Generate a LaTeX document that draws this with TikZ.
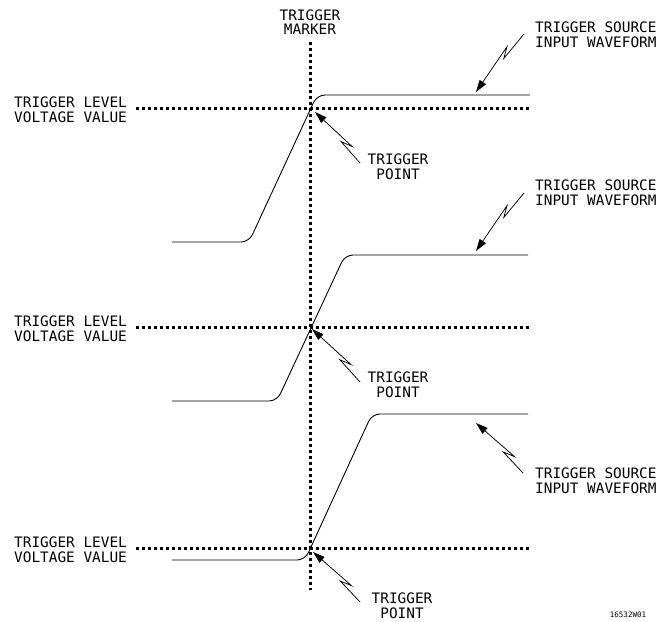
\documentclass[tikz,border=0pt]{standalone}
\usepackage{fontspec}
\newfontfamily\plotfont{DejaVu Sans Mono}
\usetikzlibrary{calc,arrows.meta}
\tikzset{
  lbl/.style={font=\plotfont\fontsize{14.4}{15}\selectfont, inner sep=0pt},
  lblw/.style={lbl, anchor=base west},
  lblc/.style={lbl, anchor=base},
  dotline/.style={line width=3pt, dash pattern=on 3pt off 3pt},
  wave/.style={line width=0.9pt, rounded corners=8pt},
  ptr/.style={line width=0.75pt, -{Triangle[length=12pt,width=7.5pt]}},
}
\newcommand{\zigarrow}[2]{%
  \coordinate (zA) at ($(#1)!0.42!(#2)$);
  \coordinate (zA2) at ($(zA)!11pt!(#1)$);
  \coordinate (zB) at ($(zA2)!5pt!-90:(#2)$);
  \draw[ptr] (#1) -- (zA) -- (zB) -- (#2);
}
\begin{document}
\begin{tikzpicture}[x=1pt,y=-1pt]
\useasboundingbox (0,0) rectangle (658,621);

% dotted trigger marker and level lines
\coordinate (mTop) at (310,42);
\coordinate (mBot) at (310,590);
\draw[dotline] (mTop) -- (mBot);
\coordinate (l1a) at (136,108); \coordinate (l1b) at (530,108);
\coordinate (l2a) at (136,327); \coordinate (l2b) at (530,327);
\coordinate (l3a) at (136,548); \coordinate (l3b) at (530,548);
\draw[dotline] (l1a) -- (l1b);
\draw[dotline] (l2a) -- (l2b);
\draw[dotline] (l3a) -- (l3b);

% waveforms
\draw[wave] (172,242) -- (249,242) -- (317,95) -- (530,95);
\draw[wave] (172,401) -- (277,401) -- (345,255) -- (528,255);
\draw[wave] (172,560) -- (305,560) -- (372,414) -- (528,414);

% labels
\node[lblc] (mk1) at (310,20) {TRIGGER};
\node[lblc] (mk2) at (310,34) {MARKER};

\node[lblw] (s1a) at (535,32) {TRIGGER SOURCE};
\node[lblw] (s1b) at (535,47) {INPUT WAVEFORM};
\node[lblw] (s2a) at (535,190) {TRIGGER SOURCE};
\node[lblw] (s2b) at (535,205) {INPUT WAVEFORM};
\node[lblw] (s3a) at (535,478) {TRIGGER SOURCE};
\node[lblw] (s3b) at (535,493) {INPUT WAVEFORM};

\node[lblw] (v1a) at (14,107) {TRIGGER LEVEL};
\node[lblw] (v1b) at (14,122) {VOLTAGE VALUE};
\node[lblw] (v2a) at (14,326) {TRIGGER LEVEL};
\node[lblw] (v2b) at (14,341) {VOLTAGE VALUE};
\node[lblw] (v3a) at (14,547) {TRIGGER LEVEL};
\node[lblw] (v3b) at (14,562) {VOLTAGE VALUE};

\node[lblc] (p1a) at (398,164) {TRIGGER};
\node[lblc] (p1b) at (398,179) {POINT};
\node[lblc] (p2a) at (398,382) {TRIGGER};
\node[lblc] (p2b) at (398,397) {POINT};
\node[lblc] (p3a) at (402,603) {TRIGGER};
\node[lblc] (p3b) at (402,618) {POINT};

\node[font=\plotfont\fontsize{7.5}{8}\selectfont, inner sep=0pt, anchor=base] (fig) at (628,617) {16532W01};

% arrows
\coordinate (sa1t) at (524,34);  \coordinate (sa1p) at (476,92);
\coordinate (sa2t) at (524,193); \coordinate (sa2p) at (476,251);
\coordinate (sa3t) at (523,473); \coordinate (sa3p) at (476,423);
\coordinate (pa1t) at (360,163); \coordinate (pa1p) at (315,112);
\coordinate (pa2t) at (360,382); \coordinate (pa2p) at (312,329);
\coordinate (pa3t) at (360,602); \coordinate (pa3p) at (313,552);
\zigarrow{sa1t}{sa1p}
\zigarrow{sa2t}{sa2p}
\zigarrow{sa3t}{sa3p}
\zigarrow{pa1t}{pa1p}
\zigarrow{pa2t}{pa2p}
\zigarrow{pa3t}{pa3p}
\end{tikzpicture}
\end{document}
